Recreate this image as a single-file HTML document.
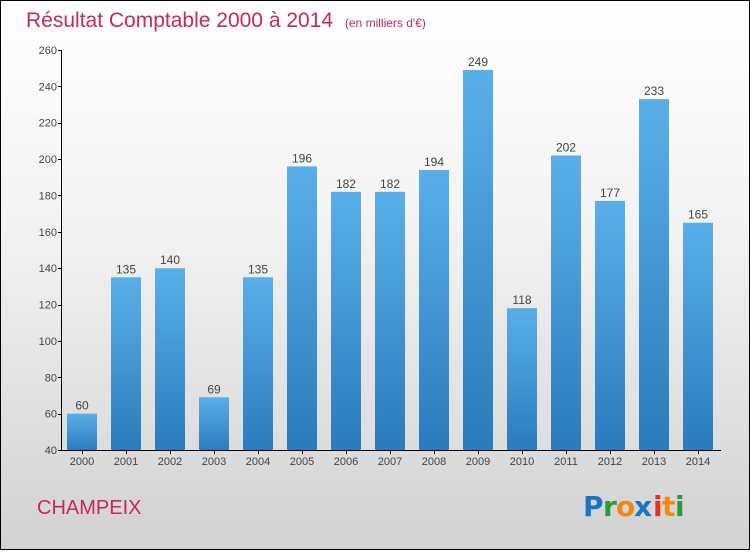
<!DOCTYPE html>
<html><head><meta charset="utf-8"><style>
body{margin:0;width:750px;height:550px;overflow:hidden}
#wrap{position:relative;width:748px;height:548px;border:1px solid #000;background:linear-gradient(#fff 0%,#f3f3f3 40%,#d2d2d2 100%);font-family:"Liberation Sans",sans-serif}
</style></head><body>
<div id="wrap">
<svg id="chart" width="748" height="548">
<defs><linearGradient id="bg" x1="0" y1="0" x2="0" y2="1"><stop offset="0" stop-color="#5aafe8"/><stop offset="1" stop-color="#2a7cbc"/></linearGradient></defs>
<text x="25" y="26" font-size="21" fill="#c4285f">Résultat Comptable 2000 à 2014 <tspan font-size="12" dx="6">(en milliers d'€)</tspan></text>
<text x="36" y="513" font-size="20" fill="#c4285f">CHAMPEIX</text>
<g font-size="28" font-weight="bold" font-family="'DejaVu Sans',sans-serif">
<text x="582" y="515" fill="#1a73c8">P</text><text x="602" y="515" fill="#2a9a3a">r</text><text x="615" y="515" fill="#f08a10">o</text><text x="633" y="515" fill="#1a73c8">x</text><text x="652" y="515" fill="#e83020">i</text><text x="661" y="515" fill="#f08a10">t</text><text x="674" y="515" fill="#2a9a3a">i</text>
</g>
<g id="axes"></g><g id="bars"></g>
</svg>
</div>
<script>
const categories=["2000","2001","2002","2003","2004","2005","2006","2007","2008","2009","2010","2011","2012","2013","2014"];
const values=[60,135,140,69,135,196,182,182,194,249,118,202,177,233,165];
const ticks=[40,60,80,100,120,140,160,180,200,220,240,260];
const NS="http://www.w3.org/2000/svg";
const y0=449,y1=49,vmin=40,vmax=260;
function y(v){return y0-(v-vmin)/(vmax-vmin)*(y0-y1);}
function x(i){return 81+i*44;}
function mk(t,a,p){const e=document.createElementNS(NS,t);for(const k in a)e.setAttribute(k,a[k]);p.appendChild(e);return e;}
const ax=document.getElementById('axes'),bs=document.getElementById('bars');
const yl=mk('line',{x1:60.5,x2:60.5,y1:y1,y2:y0,stroke:'#000'},ax);


const xl=mk('line',{x1:60,x2:720,y1:y0+0.5,y2:y0+0.5,stroke:'#000'},ax);


ticks.forEach(t=>{
 mk('line',{x1:57,x2:61,y1:Math.round(y(t))+0.5,y2:Math.round(y(t))+0.5,stroke:'#000'},ax);
 const l=mk('text',{x:56,y:y(t)+4,'text-anchor':'end','font-size':11,fill:'#444'},ax);l.textContent=t;
 
 
});
categories.forEach((c,i)=>{
 mk('line',{x1:x(i)+0.5,x2:x(i)+0.5,y1:y0,y2:y0+4,stroke:'#000'},ax);
 const l=mk('text',{x:x(i),y:y0+15,'text-anchor':'middle','font-size':11,fill:'#444'},ax);l.textContent=c;
 
 
 const b=mk('rect',{x:x(i)-15,y:y(values[i]),width:30,height:y0-y(values[i]),fill:'url(#bg)'},bs);
 
 
 const v=mk('text',{x:x(i),y:y(values[i])-4,'text-anchor':'middle','font-size':12,fill:'#444'},bs);v.textContent=values[i];
 
 
});
</script>
</body></html>
